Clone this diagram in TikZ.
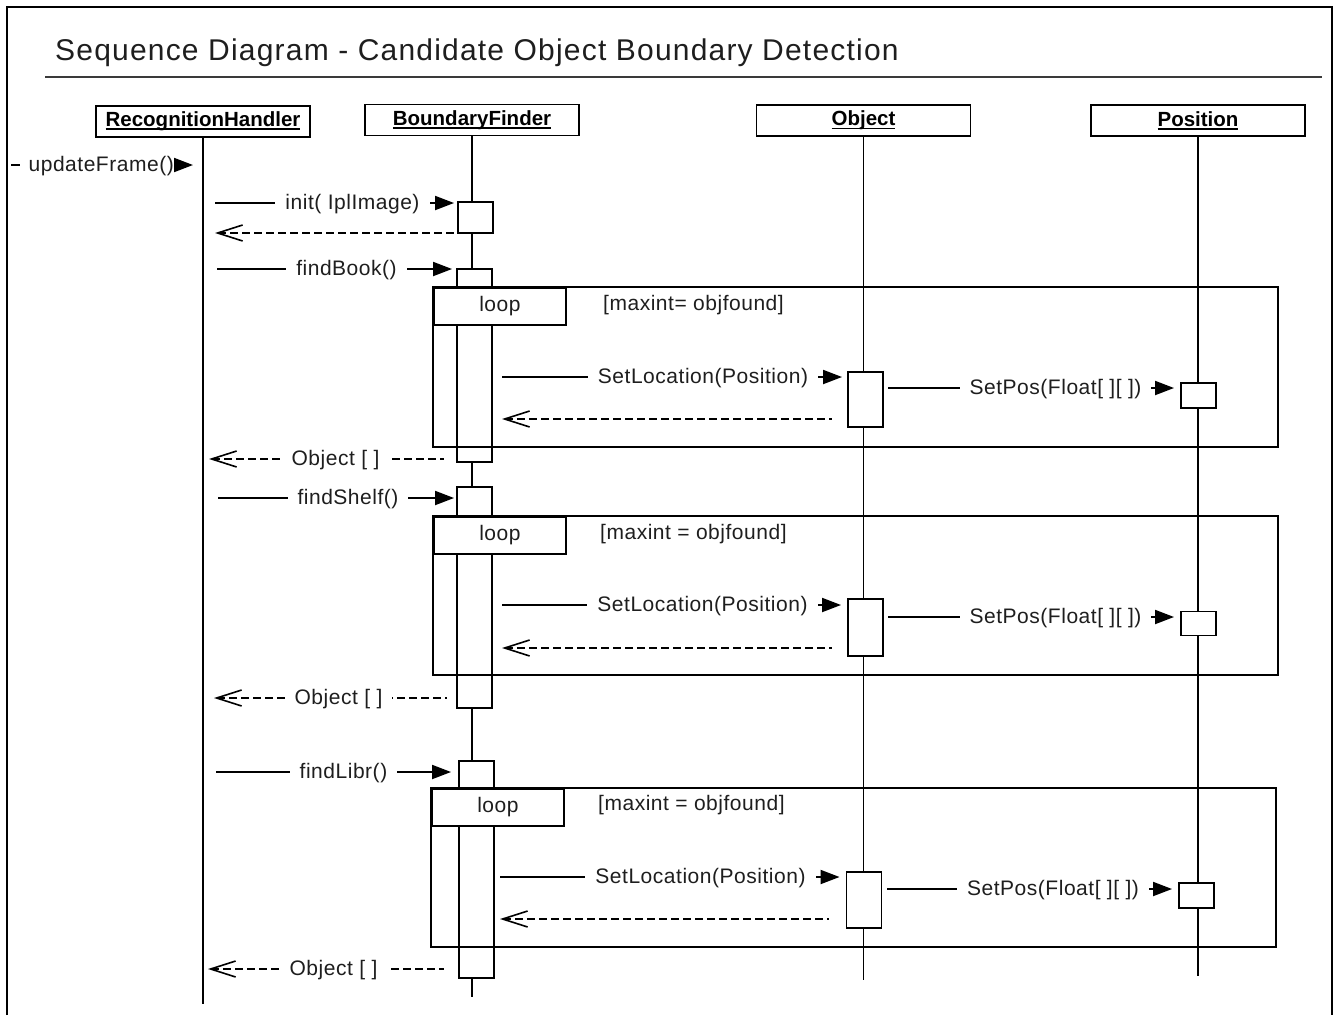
\documentclass[tikz,border=0pt]{standalone}
\usepackage{fontspec}
\setmainfont{Liberation Sans}
\newfontfamily\msgfont[LetterSpace=2.5]{Liberation Sans}
\newfontfamily\ttlfont[LetterSpace=4]{Liberation Sans}
\usetikzlibrary{arrows.meta}
\definecolor{ink}{HTML}{1E1E1E}
\definecolor{rulegray}{HTML}{3A3A3A}
% bold, underlined lifeline head name
\newcommand\headname[1]{\setbox0=\hbox{#1}\rlap{\rule[-3.3pt]{\wd0}{1.6pt}}\box0}
\newcommand\msgsize{\fontsize{21pt}{24pt}\selectfont}
\begin{document}
\begin{tikzpicture}[x=1pt,y=-1pt,
  stroke/.style={line width=1.9pt, draw=black},
  head/.style={draw=black, line width=1.9pt, fill=white, minimum width=214pt,
    minimum height=31pt, inner sep=0pt, text=black,
    font=\bfseries\fontsize{20.5pt}{23pt}\selectfont},
  act/.style={draw=black, line width=1.9pt, fill=white, minimum width=35pt, inner sep=0pt},
  call/.style={line width=1.9pt, -{Triangle[length=19pt,width=14pt]}},
  reply/.style={line width=1.6pt, dash pattern=on 8pt off 4pt,
    {Straight Barb[length=25pt,width=16pt]}-},
  lbl/.style={fill=white, inner xsep=10pt, inner ysep=1pt, text=ink, font=\msgfont\msgsize, yshift=-1pt},
  guard/.style={anchor=west, inner sep=0pt, text=ink, font=\msgfont\msgsize},
  frame/.style={draw=black, line width=1.9pt},
  tag/.style={draw=black, line width=1.9pt, fill=white, minimum width=132pt,
    minimum height=37pt, inner sep=0pt, anchor=north west, text=ink, font=\msgfont\msgsize},
]
\useasboundingbox (0,0) rectangle (1338,1015);

% outer border and title
\draw[stroke] (7,1015) -- (7,7) -- (1332,7) -- (1332,1015);
\node[anchor=base west, inner sep=0pt, text=ink, font=\ttlfont\fontsize{30pt}{34pt}\selectfont]
  (title) at (55,60) {Sequence Diagram - Candidate Object Boundary Detection};
\draw[line width=1.6pt, draw=rulegray] (45,77) -- (1322,77);

% lifeline heads
\node[head] (rh) at (203,121.5) {\headname{RecognitionHandler}};
\node[head] (bf) at (472,120)   {\headname{BoundaryFinder}};
\node[head] (ob) at (863.5,120.5) {\headname{Object}};
\node[head] (po) at (1198,120.5)  {\headname{Position}};

% lifelines
\coordinate (rhEnd) at (203,1004);
\coordinate (bfEnd) at (472,997);
\coordinate (obEnd) at (863.5,980);
\coordinate (poEnd) at (1198,976);
\draw[stroke] (rh.south) -- (rhEnd);
\draw[stroke] (bf.south) -- (bfEnd);
\draw[stroke] (ob.south) -- (obEnd);
\draw[stroke] (po.south) -- (poEnd);

% activation bars
\node[act, minimum height=31pt]  (a1) at (475.5,217.5) {};
\node[act, minimum height=193pt] (a2) at (474.5,365.5) {};
\node[act, minimum height=221pt] (a3) at (474.5,597.5) {};
\node[act, minimum height=217pt] (a4) at (476.5,869.5) {};
\node[act, minimum height=55pt]  (o1) at (865.5,399.5) {};
\node[act, minimum height=57pt]  (o2) at (865.5,627.5) {};
\node[act, minimum height=56pt]  (o3) at (864,900) {};
\node[act, minimum height=25pt]  (p1) at (1198.5,395.5) {};
\node[act, minimum height=24pt]  (p2) at (1198.5,623.5) {};
\node[act, minimum height=25pt]  (p3) at (1196.5,895.5) {};

% loop fragments
\draw[frame] (433,287) rectangle (1278,447);
\node[tag] (loopA) at (433,287) {loop};
\node[guard] (guardA) at (603,305) {[maxint= objfound]};
\draw[frame] (433,516) rectangle (1278,675);
\node[tag] (loopB) at (433,516) {loop};
\node[guard] (guardB) at (600,534) {[maxint = objfound]};
\draw[frame] (431,788) rectangle (1276,947);
\node[tag] (loopC) at (431,788) {loop};
\node[guard] (guardC) at (598,805) {[maxint = objfound]};

% incoming message
\coordinate (uf) at (11,165);
\draw[call, shorten >=10pt] (uf) -- (uf -| rh.south);
\node[lbl, anchor=east, inner xsep=0pt] (ufL) at (174,165) {\hspace*{9pt}updateFrame()};

% init
\coordinate (c1) at (215,203);
\draw[call, shorten >=3pt] (c1) -- (c1 -| a1.west);
\node[lbl] at (352.5,203) {init( IplImage)};
\coordinate (r1) at (215,233);
\draw[reply] (r1) -- (r1 -| a1.west);

% findBook
\coordinate (c2) at (217,269);
\draw[call, shorten >=4pt] (c2) -- (c2 -| a2.west);
\node[lbl] at (346.5,269) {findBook()};
\coordinate (s1) at (502,377);
\draw[call, shorten >=5pt] (s1) -- (s1 -| o1.west);
\node[lbl] at (703,377) {SetLocation(Position)};
\coordinate (q1) at (888,388);
\draw[call, shorten >=6pt] (q1) -- (q1 -| p1.west);
\node[lbl] at (1055.5,388) {SetPos(Float[ ][ ])};
\coordinate (t1) at (502,419);
\draw[reply, shorten >=15pt] (t1) -- (t1 -| o1.west);
\coordinate (k1) at (209,459);
\draw[reply, shorten >=12pt] (k1) -- (k1 -| a2.west);
\node[lbl] at (335.5,459) {Object [ ]};

% findShelf
\coordinate (c3) at (218,498);
\draw[call, shorten >=2pt] (c3) -- (c3 -| a3.west);
\node[lbl] at (348,498) {findShelf()};
\coordinate (s2) at (502,605);
\draw[call, shorten >=6pt] (s2) -- (s2 -| o2.west);
\node[lbl] at (702.5,605) {SetLocation(Position)};
\coordinate (q2) at (888,617);
\draw[call, shorten >=6pt] (q2) -- (q2 -| p2.west);
\node[lbl] at (1055.5,617) {SetPos(Float[ ][ ])};
\coordinate (t2) at (502,648);
\draw[reply, shorten >=15pt] (t2) -- (t2 -| o2.west);
\coordinate (k2) at (214,698);
\draw[reply, shorten >=9pt] (k2) -- (k2 -| a3.west);
\node[lbl] at (338.5,698) {Object [ ]};

% findLibr
\coordinate (c4) at (216,772);
\draw[call, shorten >=7pt] (c4) -- (c4 -| a4.west);
\node[lbl] at (343.5,772) {findLibr()};
\coordinate (s3) at (500,877);
\draw[call, shorten >=6pt] (s3) -- (s3 -| o3.west);
\node[lbl] at (700.5,877) {SetLocation(Position)};
\coordinate (q3) at (887,889);
\draw[call, shorten >=6pt] (q3) -- (q3 -| p3.west);
\node[lbl] at (1053,889) {SetPos(Float[ ][ ])};
\coordinate (t3) at (500,919);
\draw[reply, shorten >=17pt] (t3) -- (t3 -| o3.west);
\coordinate (k3) at (208,969);
\draw[reply, shorten >=14pt] (k3) -- (k3 -| a4.west);
\node[lbl] at (333.5,969) {Object [ ]};
\end{tikzpicture}
\end{document}
